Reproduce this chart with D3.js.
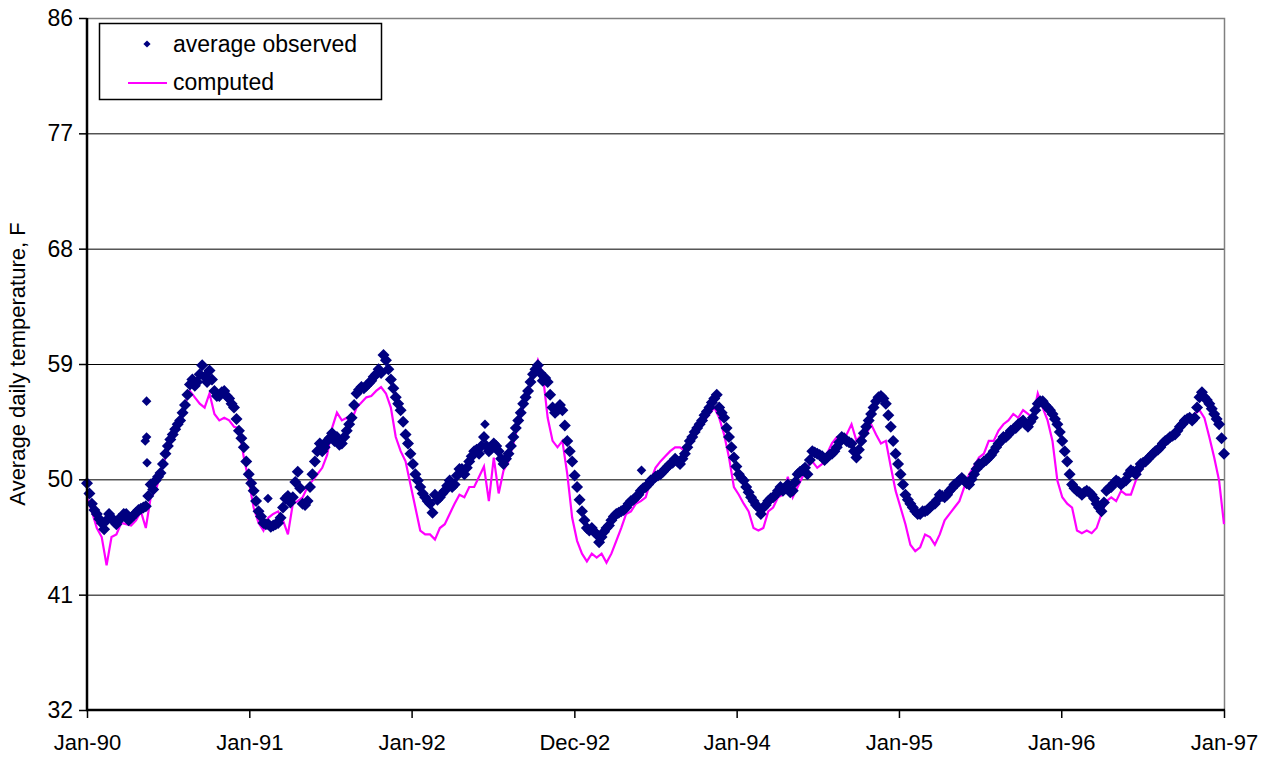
<!DOCTYPE html>
<html>
<head>
<meta charset="utf-8">
<script src="https://cdn.jsdelivr.net/npm/d3@7"></script>
<style>
  body { margin: 0; background: #fff; }
  svg text { font-family: Arial, "Liberation Sans", sans-serif; fill: #000; }
</style>
</head>
<body>
<div id="chart"></div>
<script>
// daily series, one value every ~11 days from Jan-90 to Jan-97
var totalDays = 2557;
var observed = [
  49.7, 48.1, 47.3, 46.6, 46.8, 47.0, 46.5, 47.0, 47.3, 47.0,
  47.4, 47.7, 47.9, 49.6, 49.9, 50.5, 52.0, 53.1, 53.9, 54.6,
  55.8, 57.4, 57.3, 58.2, 58.0, 58.5, 56.9, 56.5, 56.9, 56.3,
  55.6, 53.8, 52.5, 50.4, 49.1, 47.5, 46.6, 46.5, 46.4, 46.6,
  47.8, 48.7, 48.6, 50.6, 48.1, 48.3, 50.4, 52.2, 52.2, 53.0,
  53.6, 53.3, 52.8, 53.8, 54.8, 56.7, 57.2, 57.3, 57.7, 58.2,
  58.3, 59.3, 57.8, 56.4, 55.4, 53.5, 52.0, 50.4, 49.4, 48.6,
  48.1, 48.8, 48.6, 49.1, 49.9, 49.6, 50.8, 50.4, 51.4, 52.2,
  52.0, 53.3, 52.2, 52.8, 52.2, 51.2, 52.0, 53.3, 54.6, 55.9,
  56.9, 58.2, 58.9, 57.7, 57.6, 55.6, 55.4, 55.4, 53.0, 51.4,
  49.4, 47.5, 46.2, 46.2, 45.7, 45.5, 46.2, 46.8, 47.3, 47.5,
  47.8, 48.3, 48.6, 49.1, 49.4, 49.9, 50.2, 50.4, 50.8, 51.2,
  51.6, 51.2, 52.0, 53.0, 53.7, 54.3, 55.0, 55.6, 56.3, 55.6,
  54.8, 53.3, 51.7, 50.4, 49.9, 49.0, 48.3, 47.8, 47.8, 48.3,
  48.6, 49.1, 49.1, 49.6, 49.1, 50.4, 50.7, 50.4, 52.2, 52.0,
  51.8, 51.7, 52.0, 52.5, 53.3, 53.0, 52.8, 51.7, 53.0, 54.1,
  55.1, 56.1, 56.5, 55.9, 54.1, 52.0, 50.4, 48.8, 48.1, 47.5,
  47.3, 47.5, 47.8, 48.1, 48.8, 48.6, 49.1, 49.6, 49.9, 49.9,
  49.6, 50.4, 51.2, 51.4, 51.7, 52.2, 52.8, 53.3, 53.5, 53.9,
  54.3, 54.6, 54.1, 54.8, 55.9, 56.1, 55.6, 55.1, 54.3, 53.0,
  51.4, 49.6, 49.1, 48.8, 49.1, 48.8, 48.1, 47.5, 49.1, 49.4,
  49.9, 49.6, 49.9, 50.7, 50.4, 51.2, 51.4, 51.8, 52.2, 52.5,
  53.0, 53.3, 53.5, 54.1, 54.6, 54.8, 54.8, 56.4, 56.4, 55.9,
  55.1, 54.3, 52.0
];
// observed readings taken half way between the days above
var observedMid = [
  48.9, 47.6, 46.9, 46.1, 47.3, 46.7, 46.9, 47.3, 46.8, 47.2,
  47.6, 47.8, 48.7, 49.2, 50.2, 51.2, 52.6, 53.5, 54.3, 55.2,
  56.6, 57.8, 57.6, 58.9, 57.6, 57.8, 56.5, 56.8, 56.5, 55.9,
  54.7, 53.2, 51.4, 49.7, 48.3, 47.1, 46.5, 46.3, 46.5, 47.0,
  48.5, 48.2, 49.8, 49.3, 48.0, 49.4, 51.4, 52.8, 52.5, 53.2,
  53.0, 52.7, 53.3, 54.3, 55.8, 57.0, 57.1, 57.5, 58.0, 58.6,
  59.7, 58.6, 57.1, 55.9, 54.5, 52.8, 51.2, 49.9, 48.9, 48.3,
  47.4, 48.4, 48.9, 49.5, 49.4, 50.3, 50.8, 50.9, 51.8, 52.3,
  52.6, 52.6, 52.4, 52.6, 51.6, 51.6, 52.6, 54.0, 55.2, 56.4,
  57.6, 58.6, 58.3, 57.9, 56.6, 55.2, 55.8, 54.2, 52.2, 50.3,
  48.4, 46.8, 46.0, 45.9, 45.1, 45.9, 46.4, 47.1, 47.4, 47.6,
  48.1, 48.4, 48.8, 49.3, 49.6, 50.0, 50.3, 50.6, 51.0, 51.3,
  51.4, 51.6, 52.5, 53.3, 54.0, 54.6, 55.3, 56.0, 56.6, 55.2,
  54.0, 52.5, 51.0, 50.1, 49.4, 48.6, 48.0, 47.3, 48.0, 48.5,
  48.8, 49.4, 49.3, 49.0, 49.8, 50.6, 50.9, 51.5, 52.1, 51.9,
  51.5, 51.9, 52.2, 52.9, 53.2, 52.9, 52.2, 52.3, 53.6, 54.6,
  55.6, 56.4, 56.3, 55.0, 53.0, 51.2, 49.6, 48.4, 47.8, 47.3,
  47.5, 47.6, 48.0, 48.4, 48.7, 48.8, 49.3, 49.7, 50.1, 49.7,
  50.0, 50.8, 51.2, 51.5, 51.9, 52.5, 53.0, 53.3, 53.8, 54.0,
  54.4, 54.3, 54.5, 55.4, 56.1, 55.8, 55.4, 54.7, 53.7, 52.2,
  50.4, 49.3, 49.0, 49.0, 49.0, 48.5, 47.8, 48.2, 49.3, 49.7,
  49.8, 49.8, 50.4, 50.6, 50.8, 51.3, 51.6, 52.0, 52.3, 52.8,
  53.1, 53.4, 53.8, 54.3, 54.7, 54.6, 55.6, 56.8, 56.2, 55.5,
  54.7, 53.2
];
var computed = [
  48.6, 47.5, 46.2, 45.5, 43.3, 45.5, 45.7, 46.6, 46.5, 46.4,
  46.8, 47.5, 46.2, 48.6, 49.1, 50.4, 51.7, 53.0, 53.8, 54.6,
  55.9, 56.9, 56.4, 55.9, 55.6, 56.7, 55.1, 54.6, 54.8, 54.6,
  54.1, 54.0, 51.7, 49.9, 47.8, 46.6, 46.0, 47.0, 47.3, 47.5,
  46.8, 45.7, 48.1, 48.3, 48.6, 49.4, 49.9, 50.4, 50.9, 51.9,
  54.0, 55.2, 54.6, 54.8, 54.6, 55.6, 56.0, 56.4, 56.5, 56.9,
  57.2, 56.7, 55.6, 53.3, 52.2, 51.4, 49.6, 47.8, 46.0, 45.7,
  45.7, 45.3, 46.2, 46.5, 47.3, 48.1, 48.8, 48.6, 49.4, 49.4,
  50.2, 51.0, 48.3, 51.7, 48.9, 50.7, 51.4, 52.8, 54.3, 55.6,
  56.9, 58.2, 59.3, 58.2, 54.8, 53.0, 52.5, 53.0, 50.4, 47.0,
  45.2, 44.2, 43.6, 44.2, 43.9, 44.2, 43.5, 44.2, 45.2, 46.2,
  47.3, 47.5, 48.1, 48.3, 48.6, 49.9, 50.9, 51.4, 51.8, 52.2,
  52.5, 52.5, 52.2, 53.0, 54.1, 54.6, 54.6, 55.1, 55.6, 54.8,
  53.5, 51.7, 49.4, 48.8, 48.1, 47.5, 46.2, 46.0, 46.2, 47.5,
  47.8, 48.6, 48.8, 50.2, 48.6, 49.4, 50.2, 51.0, 51.4, 50.9,
  51.2, 52.0, 52.8, 53.3, 53.3, 53.5, 54.3, 53.0, 53.5, 53.5,
  54.3, 53.5, 52.8, 53.0, 51.0, 49.1, 47.8, 46.5, 44.9, 44.4,
  44.7, 45.7, 45.5, 44.9, 45.7, 46.8, 47.3, 47.8, 48.3, 49.4,
  50.4, 51.0, 51.7, 52.0, 53.0, 53.0, 53.8, 54.3, 54.6, 55.1,
  54.8, 55.4, 55.1, 54.8, 56.7, 55.6, 54.6, 53.0, 49.9, 48.6,
  48.1, 47.8, 46.0, 45.8, 46.0, 45.8, 46.2, 47.3, 48.3, 48.6,
  48.3, 49.1, 48.8, 48.8, 49.9, 50.7, 51.2, 51.7, 52.0, 52.5,
  53.0, 53.3, 53.8, 54.1, 54.8, 54.8, 55.1, 55.4, 54.8, 53.3,
  51.7, 49.9, 46.5
];
// stray observed days that sit off the main band
var strayDays = [134, 134, 131, 135, 407, 895, 1247];
var strayValues = [56.1, 53.3, 53.0, 51.3, 48.5, 54.3, 50.7];

var xTickDays = [0, 365, 730, 1096, 1461, 1826, 2191, 2557];
var xTickLabels = ["Jan-90", "Jan-91", "Jan-92", "Dec-92", "Jan-94", "Jan-95", "Jan-96", "Jan-97"];
var yTicks = [32, 41, 50, 59, 68, 77, 86];
var seriesNames = ["average observed", "computed"];

function init() {
    var w = 1274;
    var h = 757;
    var left = 87, top = 18, right = 1224, bottom = 710;

    var step = totalDays / (observed.length - 1);

    var xScale = d3.scaleLinear()
                    .domain([0, totalDays])
                    .range([left, right]);
    var yScale = d3.scaleLinear()
                    .domain([32, 86])
                    .range([bottom, top]);

    var svg = d3.select("#chart")
                .append("svg")
                .attr("width", w)
                .attr("height", h);

    // gridlines
    svg.selectAll("line.grid")
        .data(yTicks.filter(function(d){ return d > 32 && d < 86; }))
        .enter()
        .append("line")
        .attr("class", "grid")
        .attr("x1", left)
        .attr("x2", right)
        .attr("y1", function(d){ return yScale(d) + 0.5; })
        .attr("y2", function(d){ return yScale(d) + 0.5; })
        .attr("stroke", "#000")
        .attr("stroke-width", 1);

    // plot area border (top and right are grey)
    svg.append("path")
        .attr("d", "M" + left + "," + (top + 0.5) + "H" + (right + 0.5) + "V" + bottom)
        .attr("fill", "none")
        .attr("stroke", "#808080")
        .attr("stroke-width", 1.5);

    // computed line
    var line = d3.line()
                .x(function(d, i){ return xScale(i * step); })
                .y(function(d){ return yScale(d); });

    svg.append("path")
        .datum(computed)
        .attr("d", line)
        .attr("fill", "none")
        .attr("stroke", "#ff00ff")
        .attr("stroke-width", 2.2)
        .attr("stroke-linejoin", "miter");

    // observed diamonds (band points a bit larger to fill the daily scatter)
    var bandDiamond = d3.symbol().type(d3.symbolSquare).size(72);
    var diamond = d3.symbol().type(d3.symbolSquare).size(46);

    var obsPoints = observed.map(function(v, i){ return {day: i * step, value: v}; })
        .concat(observedMid.map(function(v, i){ return {day: (i + 0.5) * step, value: v}; }));

    svg.selectAll("path.obs")
        .data(obsPoints)
        .enter()
        .append("path")
        .attr("class", "obs")
        .attr("d", bandDiamond)
        .attr("transform", function(d){
            return "translate(" + xScale(d.day) + "," + yScale(d.value) + ") rotate(45)";
        })
        .attr("fill", "#000080");

    svg.selectAll("path.stray")
        .data(strayValues)
        .enter()
        .append("path")
        .attr("class", "stray")
        .attr("d", diamond)
        .attr("transform", function(d, i){
            return "translate(" + xScale(strayDays[i]) + "," + yScale(d) + ") rotate(45)";
        })
        .attr("fill", "#000080");

    // axes
    var yAxis = d3.axisLeft(yScale)
                    .tickValues(yTicks)
                    .tickSize(8)
                    .tickPadding(6)
                    .tickFormat(d3.format("d"));
    var gy = svg.append("g")
        .attr("transform", "translate(" + left + ",0)")
        .call(yAxis);
    gy.select(".domain").remove();
    gy.selectAll("line").attr("stroke", "#000").attr("stroke-width", 1.5);
    gy.selectAll("text").attr("font-size", 23).attr("font-family", null);

    var xAxis = d3.axisBottom(xScale)
                    .tickValues(xTickDays)
                    .tickSize(8)
                    .tickPadding(16)
                    .tickFormat(function(d, i){ return xTickLabels[i]; });
    var gx = svg.append("g")
        .attr("transform", "translate(0," + bottom + ")")
        .call(xAxis);
    gx.select(".domain").remove();
    gx.selectAll("line").attr("stroke", "#000").attr("stroke-width", 1.5);
    gx.selectAll("text").attr("font-size", 22).attr("font-family", null);

    svg.append("line")
        .attr("x1", left).attr("x2", left)
        .attr("y1", top).attr("y2", bottom + 1)
        .attr("stroke", "#000").attr("stroke-width", 2.5);
    svg.append("line")
        .attr("x1", left - 1).attr("x2", right + 1)
        .attr("y1", bottom).attr("y2", bottom)
        .attr("stroke", "#000").attr("stroke-width", 2.5);

    svg.append("text")
        .attr("transform", "translate(25," + ((top + bottom) / 2) + ") rotate(-90)")
        .attr("text-anchor", "middle")
        .attr("font-size", 22)
        .text("Average daily temperature, F");

    // legend
    var legend = svg.append("g");
    legend.append("rect")
        .attr("x", 99.5).attr("y", 23.5)
        .attr("width", 282).attr("height", 76)
        .attr("fill", "#fff")
        .attr("stroke", "#000")
        .attr("stroke-width", 1.5);
    legend.append("path")
        .attr("d", d3.symbol().type(d3.symbolSquare).size(26))
        .attr("transform", "translate(147,44) rotate(45)")
        .attr("fill", "#000080");
    legend.append("line")
        .attr("x1", 128).attr("x2", 167)
        .attr("y1", 83).attr("y2", 83)
        .attr("stroke", "#ff00ff").attr("stroke-width", 2);
    legend.selectAll("text")
        .data(seriesNames)
        .enter()
        .append("text")
        .attr("x", 173)
        .attr("y", function(d, i){ return 52 + i * 38; })
        .attr("font-size", 23)
        .text(function(d){ return d; });
}

window.onload = init;
</script>
</body>
</html>
